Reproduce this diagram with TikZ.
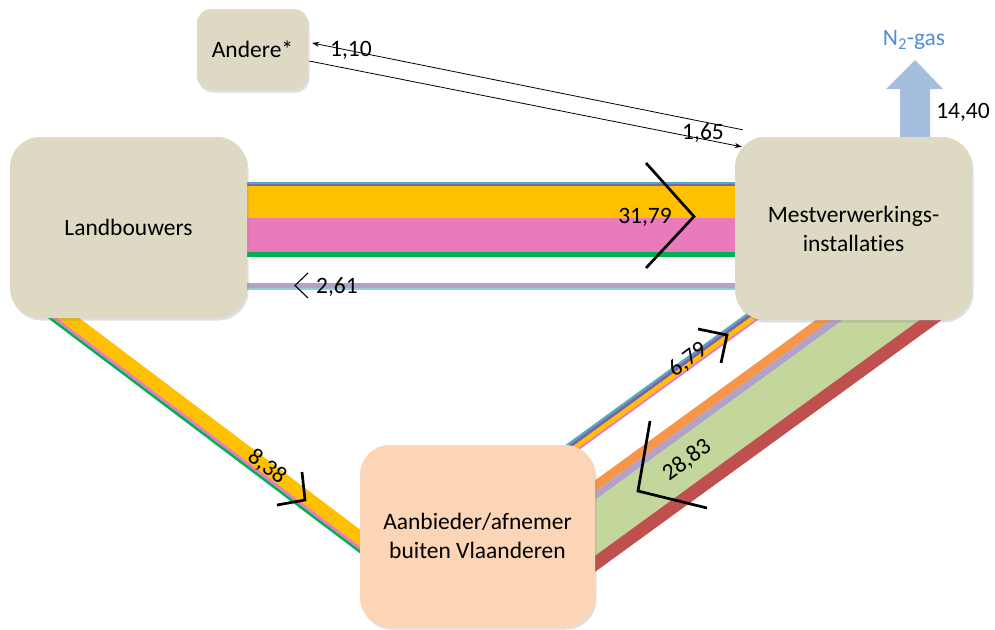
\documentclass[tikz,border=0pt]{standalone}
\usepackage{fontspec}
\setmainfont{Carlito}[Ligatures=NoCommon]
\usetikzlibrary{shadows,arrows.meta,calc}
\definecolor{cteal}{RGB}{75,172,198}
\definecolor{cpurple}{RGB}{128,100,162}
\definecolor{cyellow}{RGB}{255,192,0}
\definecolor{cpink}{RGB}{233,123,189}
\definecolor{cgreen}{RGB}{0,176,80}
\definecolor{corange}{RGB}{247,150,70}
\definecolor{clav}{RGB}{179,162,199}
\definecolor{clblue}{RGB}{147,205,221}
\definecolor{clgreen}{RGB}{195,214,155}
\definecolor{cred}{RGB}{192,80,77}
\definecolor{ctan}{RGB}{221,217,195}
\definecolor{cpeach}{RGB}{251,213,181}
\definecolor{cntext}{RGB}{84,141,212}
\definecolor{cnarrow}{RGB}{166,190,221}
\begin{document}
\begin{tikzpicture}[x=1pt,y=-1pt,
  box/.style={rounded corners=30pt, fill=ctan, draw=none, align=center,
    font=\fontsize{23.5}{29}\selectfont, inner sep=0pt,
    drop shadow={shadow xshift=1.5pt,shadow yshift=-2.5pt,opacity=0.25}},
  lbl/.style={font=\fontsize{23.5}{28}\selectfont, inner sep=0pt},
  chev/.style={line width=2.7pt, line join=miter},
  chevthin/.style={line width=1.1pt, line join=miter},
  thinarrow/.style={line width=0.8pt, -{Stealth[length=7pt,width=5pt]}}]
\useasboundingbox (0,0) rectangle (995,629);
% horizontal band Landbouwers -> Mestverwerking
\fill[cteal] (240,181.5) rectangle (740,183.5);
\fill[cpurple] (240,183.5) rectangle (740,186);
\fill[cyellow] (240,186) rectangle (740,218.3);
\fill[cpink] (240,218.3) rectangle (740,251.7);
\fill[cgreen] (240,251.7) rectangle (740,256.7);
% thin band back
\fill[corange] (240,282.8) rectangle (740,284);
\fill[clav] (240,284) rectangle (740,287.5);
\fill[clblue] (240,287.5) rectangle (740,290);
% Landbouwers -> Aanbieder
\begin{scope}[shift={(305,500)}, rotate=-37]
  \fill[cyellow] (-332,-9.5) rectangle (88,4);
  \fill[cpink] (-332,4) rectangle (88,7);
  \fill[cgreen] (-332,7) rectangle (88,9.5);
\end{scope}
% Aanbieder -> Mest (6,79)
\begin{scope}[shift={(727,335)}, rotate=36]
  \fill[cteal] (-200,-6) rectangle (51,-3.8);
  \fill[cpurple] (-200,-3.8) rectangle (51,-0.5);
  \fill[cyellow] (-200,-0.5) rectangle (51,4);
  \fill[cpink] (-200,4) rectangle (51,6);
\end{scope}
% Mest -> Aanbieder (28,83)
\begin{scope}[shift={(813,322)}, rotate=36]
  \fill[corange] (-335,0) rectangle (119,9);
  \fill[clav] (-335,9) rectangle (119,16);
  \fill[clgreen] (-335,16) rectangle (119,61);
  \fill[cred] (-335,61) rectangle (119,74);
\end{scope}
% N2 arrow
\fill[cnarrow] (900,137) -- (900,89) -- (886,89) -- (915,60) -- (943,89) -- (930,89) -- (930,137) -- cycle;
% boxes
\node[box, rounded corners=14pt, minimum width=111pt, minimum height=81pt] (andere) at (252.5,49.5) {Andere*};
\node[box, minimum width=237pt, minimum height=181pt] (landb) at (128.5,227.5) {Landbouwers};
\node[box, minimum width=237pt, minimum height=183pt] (mest) at (853.5,228.5) {Mestverwerkings-\\installaties};
\node[box, fill=cpeach, minimum width=235pt, minimum height=182pt] (aanb) at (477.5,536) {Aanbieder/afnemer\\buiten Vlaanderen};
% thin arrows
\coordinate (aIn) at ($(andere.east)+(4,-6.5)$);
\coordinate (aOut) at ($(andere.east)+(1,11.5)$);
\coordinate (mOut) at ($(mest.north west)+(8,-7)$);
\coordinate (mIn) at ($(mest.north west)+(7,10)$);
\draw[thinarrow] (mOut) -- (aIn);
\draw[thinarrow] (aOut) -- (mIn);
% chevrons
\draw[chev] (646,163) -- (694,216.5) -- (646,268);
\draw[chevthin] (308,273) -- (295,285.5) -- (308,298);
\draw[chev] (302,472) -- (305,500) -- (277,505);
\draw[chev] (698,329) -- (727,335) -- (721,363);
\draw[chev] (650,421) -- (638,491) -- (707,508);
% labels
\node[lbl] (l1) at (645,217) {31,79};
\node[lbl] (l2) at (337,287) {2,61};
\node[lbl, rotate=-37] (l3) at (267,467) {8,38};
\node[lbl, rotate=36] (l4) at (688,360) {6,79};
\node[lbl, rotate=36] (l5) at (687,460) {28,83};
\node[lbl] (l6) at (351,50) {1,10};
\node[lbl] (l7) at (703,133) {1,65};
\node[lbl] (l8) at (963,112) {14,40};
\node[lbl, text=cntext] (l9) at (914,40) {N\textsubscript{2}-gas};
\end{tikzpicture}
\end{document}
